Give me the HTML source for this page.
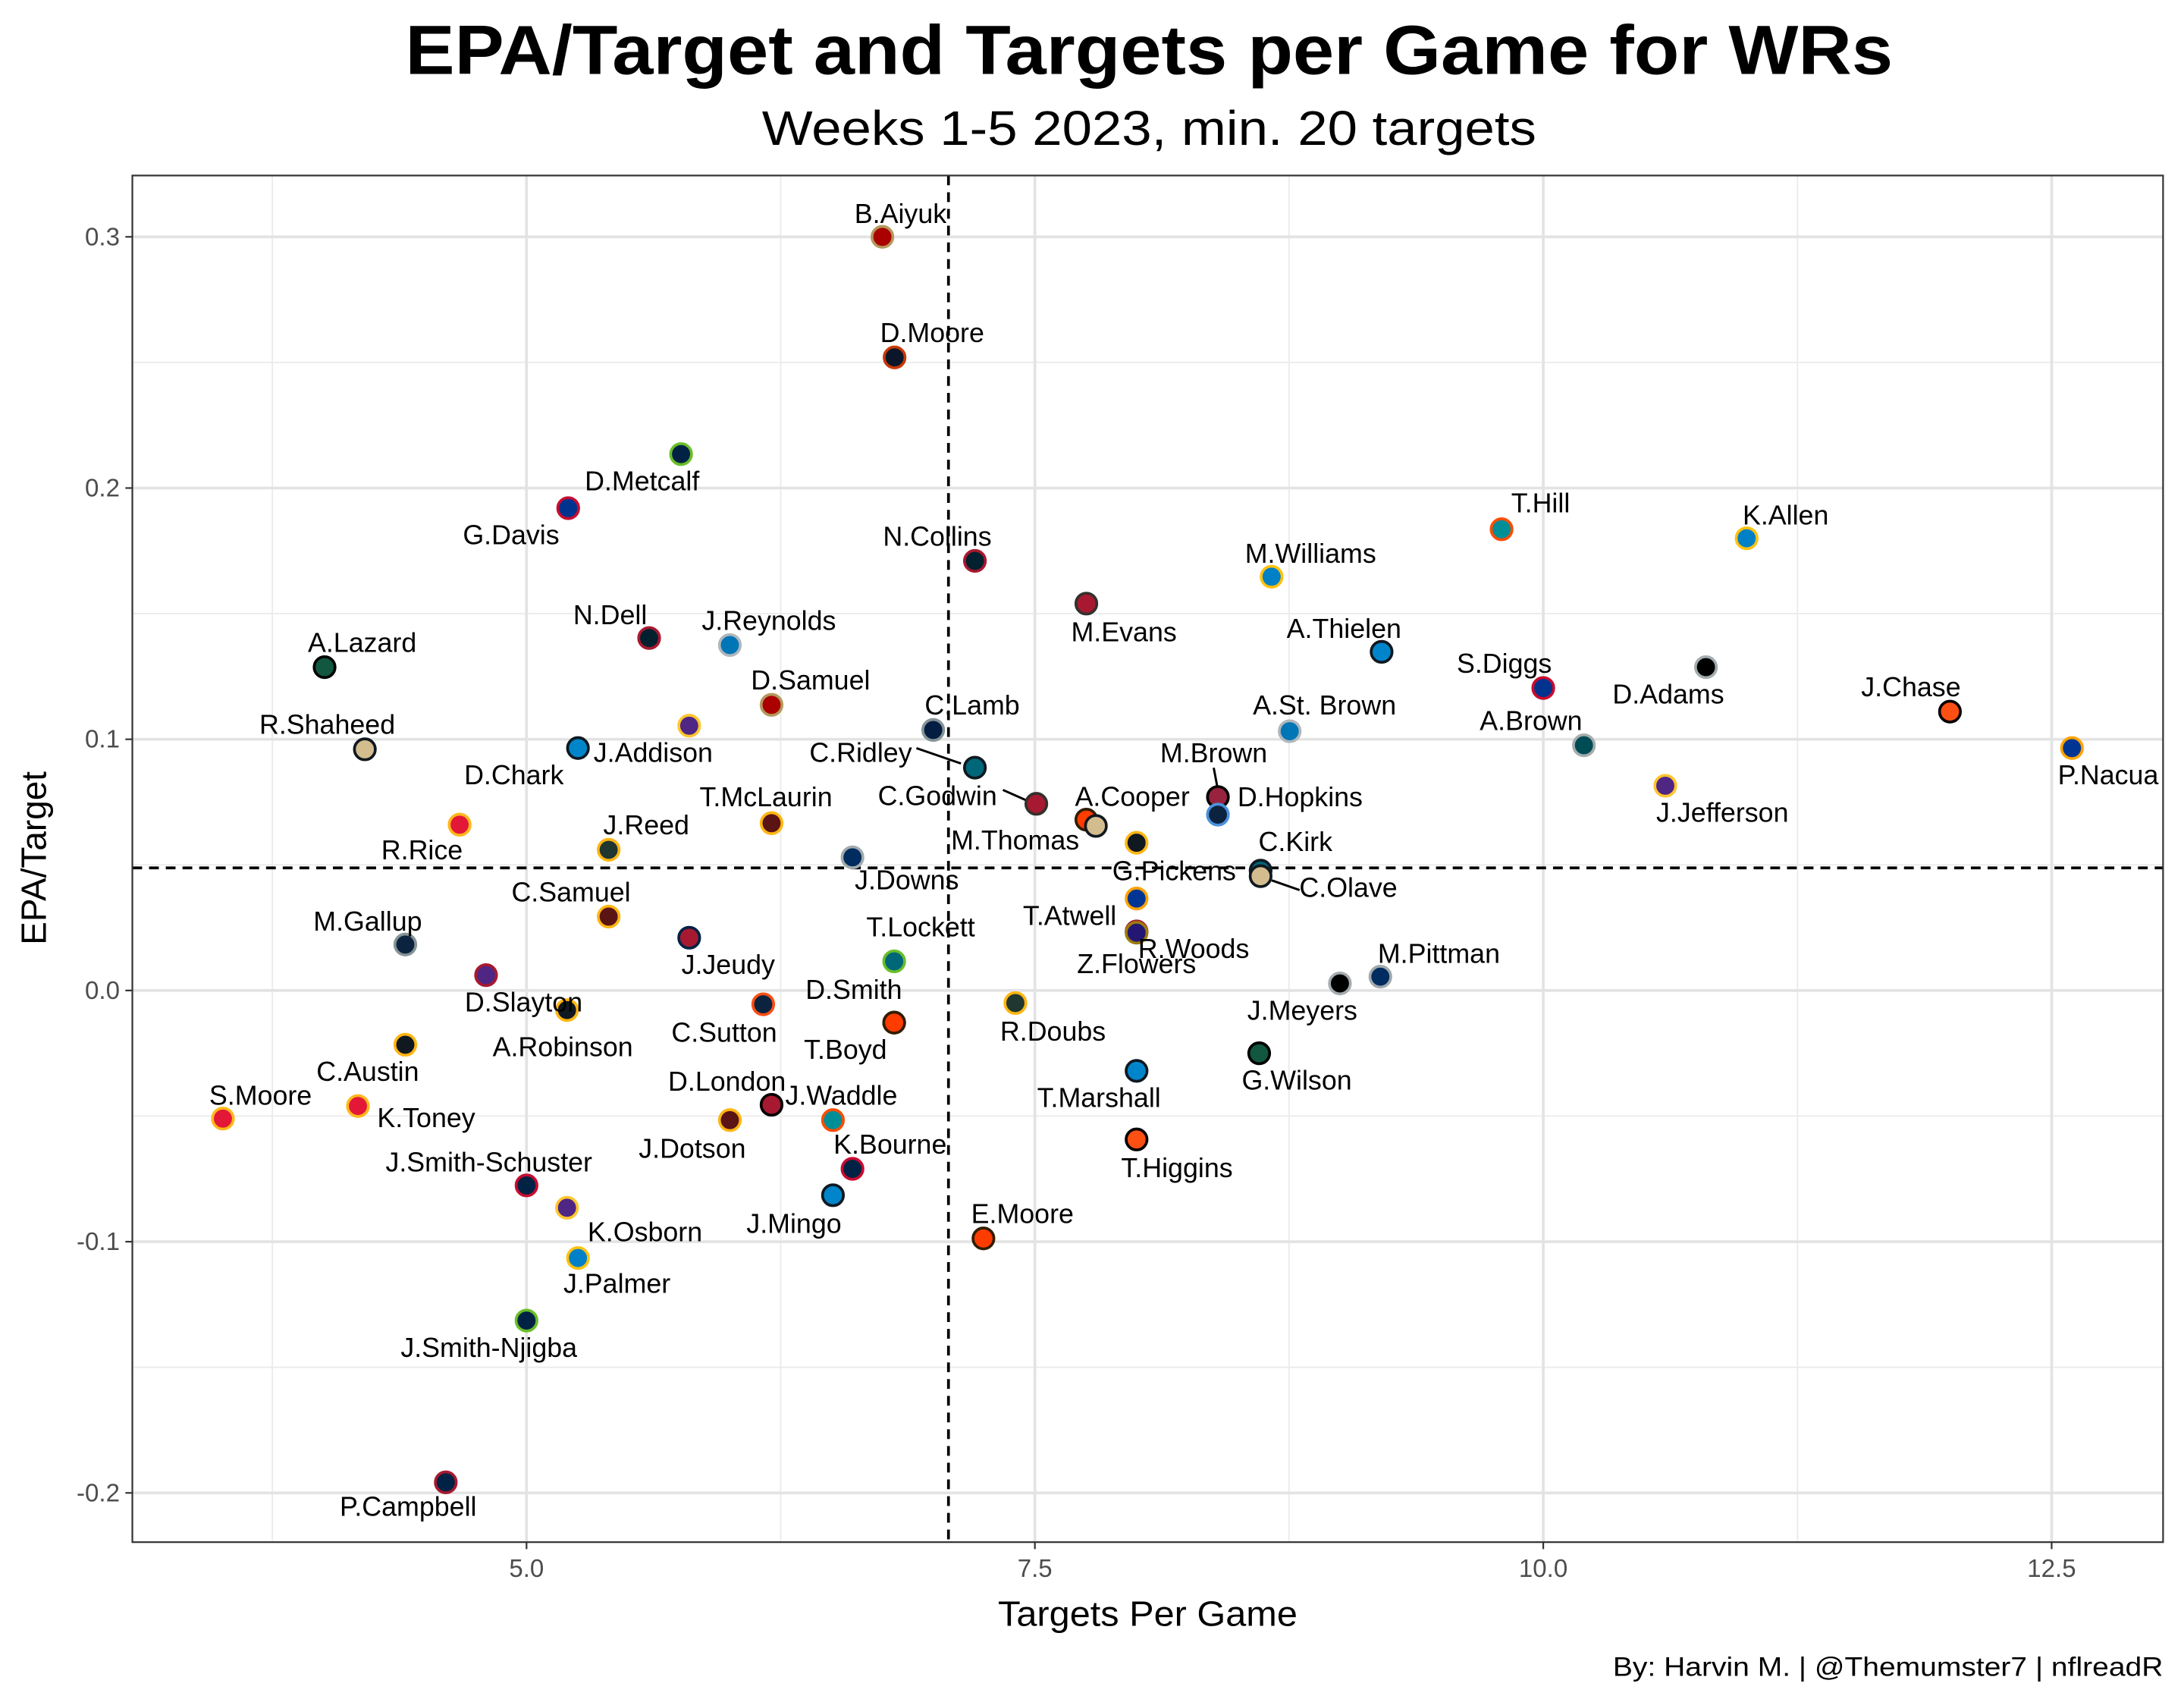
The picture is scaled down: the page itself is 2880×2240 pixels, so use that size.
<!DOCTYPE html>
<html><head><meta charset="utf-8">
<style>
html,body{margin:0;padding:0;background:#fff;}
svg{display:block;font-family:"Liberation Sans",Arial,sans-serif;}
</style></head>
<body>
<svg id="chart" width="2880" height="2240" viewBox="0 0 1568 1219.6" xmlns="http://www.w3.org/2000/svg">
<rect x="0" y="0" width="1568" height="1219.6" fill="#fff"/>
<text x="825" y="53" text-anchor="middle" font-size="50" font-weight="bold" fill="#000" textLength="1068" lengthAdjust="spacingAndGlyphs">EPA/Target and Targets per Game for WRs</text>
<text x="825" y="104" text-anchor="middle" font-size="35" fill="#000" textLength="556" lengthAdjust="spacingAndGlyphs">Weeks 1-5 2023, min. 20 targets</text>
<g id="grid"></g>
<g id="reflines"></g>
<g id="leaders"></g>
<g id="points"></g>
<g id="labels"></g>
<rect x="95" y="126" width="1458" height="981" fill="none" stroke="#333" stroke-width="1.2"/>
<g id="axes"></g>
<text x="824" y="1167" text-anchor="middle" font-size="25" fill="#000" textLength="215" lengthAdjust="spacingAndGlyphs">Targets Per Game</text>
<text transform="translate(33,616) rotate(-90)" text-anchor="middle" font-size="25" fill="#000">EPA/Target</text>
<text x="1553" y="1203" text-anchor="end" font-size="19" fill="#000" textLength="395" lengthAdjust="spacingAndGlyphs">By: Harvin M. | @Themumster7 | nflreadR</text>
</svg>
<script>
const players = ["B.Aiyuk","D.Moore","D.Metcalf","G.Davis","N.Collins","M.Evans","T.Hill","K.Allen","M.Williams","A.Thielen","S.Diggs","D.Adams","J.Chase","P.Nacua","A.Brown","J.Jefferson","A.St. Brown","M.Brown","D.Hopkins","C.Kirk","C.Olave","M.Pittman","J.Meyers","G.Wilson","T.Marshall","T.Higgins","E.Moore","G.Pickens","T.Atwell","R.Woods","Z.Flowers","A.Cooper","M.Thomas","C.Godwin","C.Ridley","C.Lamb","R.Doubs","T.Lockett","J.Downs","D.Smith","T.Boyd","T.McLaurin","D.Samuel","J.Reynolds","N.Dell","","A.Lazard","R.Shaheed","D.Chark","R.Rice","J.Reed","C.Samuel","J.Jeudy","M.Gallup","D.Slayton","A.Robinson","C.Sutton","C.Austin","S.Moore","K.Toney","D.London","J.Dotson","J.Waddle","K.Bourne","J.Mingo","J.Smith-Schuster","K.Osborn","J.Palmer","J.Smith-Njigba","P.Campbell","J.Addison"];
const targetsPerGame = [6.75,6.81,5.76,5.205,7.205,7.753,9.795,11.0,8.664,9.205,10.0,10.80,12.0,12.60,10.20,10.60,8.753,8.40,8.40,8.61,8.61,9.199,9.0,8.603,8.0,8.0,7.247,8.0,8.0,8.0,8.0,7.753,7.80,7.507,7.205,7.0,7.404,6.808,6.603,6.808,6.808,6.205,6.205,6.0,5.603,5.80,4.007,4.205,4.671,4.671,5.404,5.404,5.80,4.404,4.801,5.199,6.164,4.404,3.507,4.171,6.205,6.0,6.507,6.603,6.507,5.0,5.199,5.253,5.0,4.603,5.253];
const epaPerTarget = [0.300,0.252,0.2135,0.192,0.171,0.154,0.1836,0.180,0.1647,0.1348,0.1204,0.1287,0.111,0.0965,0.0976,0.0815,0.1032,0.077,0.070,0.0477,0.0455,0.0055,0.0028,-0.025,-0.032,-0.0593,-0.0987,0.0588,0.0366,0.0235,0.0230,0.068,0.0655,0.0743,0.0887,0.1037,-0.005,0.0116,0.053,-0.0128,-0.0128,0.0666,0.1137,0.1375,0.1403,0.1054,0.1287,0.096,0.066,0.066,0.056,0.0294,0.021,0.0183,0.0061,-0.0078,-0.0055,-0.0216,-0.051,-0.046,-0.0455,-0.0516,-0.0516,-0.071,-0.0815,-0.0776,-0.0865,-0.1065,-0.1314,-0.1958,0.0965];
const fillColors = ["#AA0000","#0B162A","#002244","#00338D","#03202F","#A71930","#008E97","#0080C6","#0080C6","#0085CA","#00338D","#000000","#FB4F14","#003594","#004C54","#4F2683","#0076B6","#97233F","#0C2340","#006778","#D3BC8D","#002C5F","#000000","#125740","#0085CA","#FB4F14","#FF3C00","#101820","#003594","#03202F","#241773","#FF3C00","#D3BC8D","#A71930","#006778","#041E42","#203731","#006778","#002C5F","#FF3C00","#FF3C00","#5A1414","#AA0000","#0076B6","#03202F","#4F2683","#125740","#D3BC8D","#E31837","#E31837","#203731","#5A1414","#A71930","#0C2340","#4F2683","#101820","#0C2340","#101820","#E31837","#E31837","#A71930","#5A1414","#008E97","#002244","#0085CA","#002244","#4F2683","#0080C6","#002244","#002244","#0085CA"];
const strokeColors = ["#B3995D","#C83803","#69BE28","#C60C30","#A71930","#34302B","#FC4C02","#FFC20E","#FFC20E","#101820","#C60C30","#A5ACAF","#000000","#FFA300","#A5ACAF","#FFC62F","#B0B7BC","#000000","#4B92DB","#101820","#101820","#A2AAAD","#A5ACAF","#000000","#101820","#000000","#311D00","#FFB612","#FFA300","#A71930","#9E7C0C","#311D00","#101820","#34302B","#101820","#869397","#FFB612","#69BE28","#A2AAAD","#311D00","#311D00","#FFB612","#B3995D","#B0B7BC","#A71930","#FFC62F","#000000","#101820","#FFB81C","#FFB81C","#FFB612","#FFB612","#002244","#869397","#A71930","#FFB612","#FB4F14","#FFB612","#FFB81C","#FFB81C","#000000","#FFB612","#FC4C02","#C60C30","#101820","#C60C30","#FFC62F","#FFC20E","#69BE28","#A71930","#101820"];
const xTicks = [5.0,7.5,10.0,12.5];
const xTickLabels = ["5.0","7.5","10.0","12.5"];
const xMinorTicks = [3.75,6.25,8.75,11.25];
const yTicks = [-0.2,-0.1,0.0,0.1,0.2,0.3];
const yTickLabels = ["-0.2","-0.1","0.0","0.1","0.2","0.3"];
const yMinorTicks = [-0.15,-0.05,0.05,0.15,0.25];
const meanTargets = 7.075;
const meanEpa = 0.0488;

// label offsets (layout only, in px relative to point)
const labelOffsets = [[13,-17],[27,-18],[-28,19],[-41,19],[-27,-18],[27,20],[28,-19],[28,-17],[28,-17],[-27,-17],[-28,-18],[-27,19],[-28,-18],[26,19],[-38,-18],[41,19],[25,-19],[-3,-32],[59,-13],[25,-21],[63,8],[42,-17],[-27,19],[27,19],[-27,19],[29,20],[28,-18],[27,20],[-48,12],[41,12],[0,22],[33,-17],[-58,10],[-71,-6],[-82,-11],[28,-18],[27,20],[19,-25],[39,16],[-29,-24],[-35,19],[-4,-19],[28,-18],[28,-18],[-28,-17],[0,0],[27,-18],[-27,-18],[39,-36],[-27,18],[27,-18],[-27,-18],[28,19],[-27,-17],[27,19],[-3,26],[-28,20],[-27,19],[27,-17],[49,8],[-32,-17],[-27,20],[6,-18],[27,-18],[-28,20],[-27,-17],[56,17],[28,18],[-27,19],[-27,17],[54,3]];
const leaderLines = {"M.Brown":[-3,-21,0,-5],"C.Olave":[8,3,28,10],"C.Godwin":[-24,-10,-6,-2],"C.Ridley":[-42,-14,-10,-3]};

const NS="http://www.w3.org/2000/svg";
const PX0=95,PX1=1553,PY0=126,PY1=1107;
function xs(v){return 378+(v-5)*146;}
function ys(v){return 711-v*1803.3;}
function mk(tag,attrs,parent){const e=document.createElementNS(NS,tag);for(const k in attrs)e.setAttribute(k,attrs[k]);parent.appendChild(e);return e;}
const grid=document.getElementById('grid');
const axes=document.getElementById('axes');
mk('rect',{x:PX0,y:PY0,width:PX1-PX0,height:PY1-PY0,fill:'#fff'},grid);
xMinorTicks.forEach(v=>{const l=mk('line',{x1:xs(v),x2:xs(v),y1:PY0,y2:PY1,stroke:'#ebebeb','stroke-width':1},grid);

});
yMinorTicks.forEach(v=>{const l=mk('line',{x1:PX0,x2:PX1,y1:ys(v),y2:ys(v),stroke:'#ebebeb','stroke-width':1},grid);

});
xTicks.forEach((v,i)=>{const l=mk('line',{x1:xs(v),x2:xs(v),y1:PY0,y2:PY1,stroke:'#e3e3e3','stroke-width':2},grid);


mk('line',{x1:xs(v),x2:xs(v),y1:PY1,y2:PY1+5,stroke:'#333','stroke-width':1.2},axes);
const t=mk('text',{x:xs(v),y:PY1+25,'text-anchor':'middle','font-size':18,fill:'#4d4d4d'},axes);
t.textContent=xTickLabels[i];

});
yTicks.forEach((v,i)=>{const l=mk('line',{x1:PX0,x2:PX1,y1:ys(v),y2:ys(v),stroke:'#e3e3e3','stroke-width':2},grid);


mk('line',{x1:PX0-5,x2:PX0,y1:ys(v),y2:ys(v),stroke:'#333','stroke-width':1.2},axes);
const t=mk('text',{x:PX0-9,y:ys(v)+6,'text-anchor':'end','font-size':18,fill:'#4d4d4d'},axes);
t.textContent=yTickLabels[i];

});
const ref=document.getElementById('reflines');
const vl=mk('line',{x1:xs(meanTargets),x2:xs(meanTargets),y1:PY0,y2:PY1,stroke:'#000','stroke-width':2,'stroke-dasharray':'7,5'},ref);


const hl=mk('line',{x1:PX0,x2:PX1,y1:ys(meanEpa),y2:ys(meanEpa),stroke:'#000','stroke-width':2,'stroke-dasharray':'7,5'},ref);


const pts=document.getElementById('points'),lbs=document.getElementById('labels'),lds=document.getElementById('leaders');
players.forEach((p,i)=>{
 const cx=xs(targetsPerGame[i]),cy=ys(epaPerTarget[i]);
 const c=mk('circle',{cx:cx,cy:cy,r:7.5,fill:fillColors[i],stroke:strokeColors[i],'stroke-width':2},pts);
 
 
 if(!p)return;
 const o=labelOffsets[i];
 const t=mk('text',{x:cx+o[0],y:cy+o[1]+7,'text-anchor':'middle','font-size':19.5,fill:'#000'},lbs);
 t.textContent=p;
 
 
 if(leaderLines[p]){const L=leaderLines[p];
  const ln=mk('line',{x1:cx+L[0],y1:cy+L[1],x2:cx+L[2],y2:cy+L[3],stroke:'#000','stroke-width':1.6},lds);
  
  }
});
</script>
</body></html>
